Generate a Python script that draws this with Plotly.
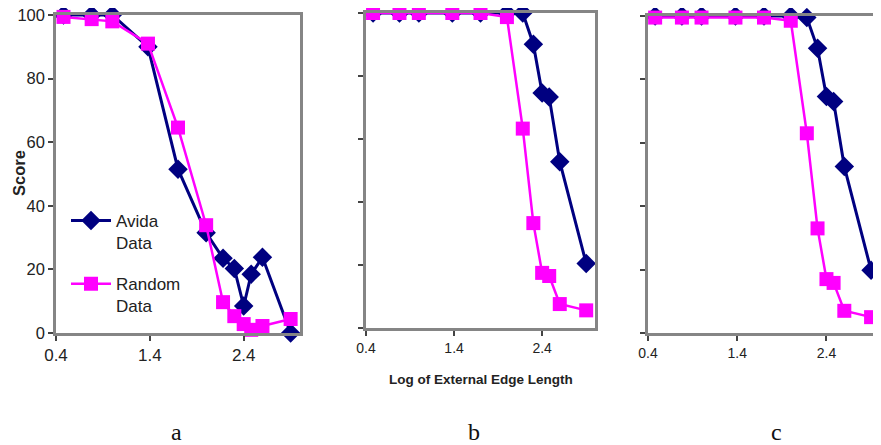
import plotly.graph_objects as go

# Page body has an 8px margin: figure covers window pixels 8..881 / 8..445
OFF = 8
W, H = 881 - OFF, 445 - OFF

# ---- data ----
log_edge = [0.48, 0.78, 1.0, 1.38, 1.70, 2.0, 2.18, 2.30, 2.40, 2.48, 2.60, 2.90]

avida_a = [100, 100, 100, 90, 51.5, 31.5, 23.5, 20.3, 8.5, 18.5, 23.8, 0]
random_a = [99.4, 98.7, 98, 91, 64.6, 33.9, 9.7, 5.3, 2.8, 1.0, 2.2, 4.4]

avida_b = [100, 100, 100, 100, 100, 100, 100, 90.1, 74.6, 73.3, 52.8, 20.5]
random_b = [100, 100, 100, 100, 100, 98.7, 63.3, 33.3, 17.5, 16.5, 7.6, 5.6]

avida_c = [100, 100, 100, 100, 100, 100, 99.5, 89.8, 74.6, 73.0, 52.5, 19.8]
random_c = [99.5, 99.5, 99.5, 99.5, 99.5, 98.5, 63.0, 33.0, 17.0, 15.8, 7.0, 5.0]

x_ticks = [0.4, 1.4, 2.4]
x_tick_labels = ["0.4", "1.4", "2.4"]
y_ticks = [0, 20, 40, 60, 80, 100]
y_tick_labels = ["0", "20", "40", "60", "80", "100"]
panel_letters = ["a", "b", "c"]

NAVY = "#000080"
MAGENTA = "#FF00FF"
FONT = "Liberation Sans, Arial, sans-serif"


def px(x):
    return (x - OFF) / W


def py(y):
    return 1 - (y - OFF) / H


# panel pixel boxes in window coordinates: (left, right, top, bottom)
boxes = [(56, 300, 15, 333), (366, 595, 13, 328), (648, 880, 16, 333)]

fig = go.Figure()

series = [(avida_a, random_a), (avida_b, random_b), (avida_c, random_c)]
for i, (av, rd) in enumerate(series):
    xa = "x" if i == 0 else f"x{i+1}"
    ya = "y" if i == 0 else f"y{i+1}"
    fig.add_trace(go.Scatter(
        x=log_edge, y=av, xaxis=xa, yaxis=ya, mode="lines+markers",
        name="Avida<br>Data", legendgroup="avida", showlegend=(i == 0),
        line=dict(color=NAVY, width=3),
        marker=dict(symbol="diamond", size=15, color=NAVY),
        cliponaxis=False))
    fig.add_trace(go.Scatter(
        x=log_edge, y=rd, xaxis=xa, yaxis=ya, mode="lines+markers",
        name="Random<br>Data", legendgroup="random", showlegend=(i == 0),
        line=dict(color=MAGENTA, width=2.5),
        marker=dict(symbol="square", size=14, color=MAGENTA),
        cliponaxis=False))

layout = dict(
    template="none",
    width=W, height=H,
    margin=dict(l=0, r=0, t=0, b=0, pad=0, autoexpand=False),
    paper_bgcolor="white", plot_bgcolor="white",
    font=dict(family=FONT, color="#222"),
    showlegend=True,
    legend=dict(x=px(66), y=py(203), xanchor="left", yanchor="top",
                valign="top", font=dict(size=17, family=FONT, color="#222"),
                tracegroupgap=16, bgcolor="rgba(0,0,0,0)", borderwidth=0,
                itemwidth=40),
)

for i, (l, r, t, b) in enumerate(boxes):
    xkey = "xaxis" if i == 0 else f"xaxis{i+1}"
    ykey = "yaxis" if i == 0 else f"yaxis{i+1}"
    xa_anchor = "y" if i == 0 else f"y{i+1}"
    ya_anchor = "x" if i == 0 else f"x{i+1}"
    fsz = 17 if i == 0 else 14
    layout[xkey] = dict(
        domain=[px(l), px(r)], anchor=xa_anchor, range=[0.4, 3.0],
        tickvals=x_ticks, ticktext=x_tick_labels, ticks="outside",
        ticklen=5, tickwidth=1.5, tickcolor="#444", automargin=False,
        ticklabeloverflow="allow",
        showline=True, linecolor="#858585", linewidth=2.5, mirror=True,
        showgrid=False, zeroline=False,
        tickfont=dict(size=fsz, family=FONT, color="#222"))
    layout[ykey] = dict(
        domain=[py(b), py(t)], anchor=ya_anchor, range=[0, 100],
        tickvals=y_ticks, ticktext=y_tick_labels, ticks="outside",
        ticklen=5, tickwidth=1.5, tickcolor="#444", automargin=False,
        ticklabeloverflow="allow",
        showticklabels=(i == 0),
        showline=True, linecolor="#858585", linewidth=2.5, mirror=True,
        showgrid=False, zeroline=False,
        tickfont=dict(size=16.5, family=FONT, color="#222"))

fig.update_layout(**layout)

annotations = [
    dict(text="<b>Score</b>", x=px(19), y=py(173), xref="paper", yref="paper",
         xanchor="center", yanchor="middle", borderpad=0,
         textangle=-90, showarrow=False, font=dict(size=16.5, family=FONT, color="#222")),
    dict(text="<b>Log of External Edge Length</b>", x=px(481), y=py(379),
         xref="paper", yref="paper", xanchor="center", yanchor="middle", showarrow=False,
         font=dict(size=13.5, family=FONT, color="#222")),
]
for letter, lx in zip(panel_letters, [176, 474, 776]):
    annotations.append(dict(text=letter, x=px(lx), y=py(432), xref="paper", yref="paper",
                            xanchor="center", yanchor="middle", showarrow=False,
                            font=dict(size=24, family="Liberation Serif, Times New Roman, serif",
                                      color="#111")))
fig.update_layout(annotations=annotations)

fig.write_html("out.html")
